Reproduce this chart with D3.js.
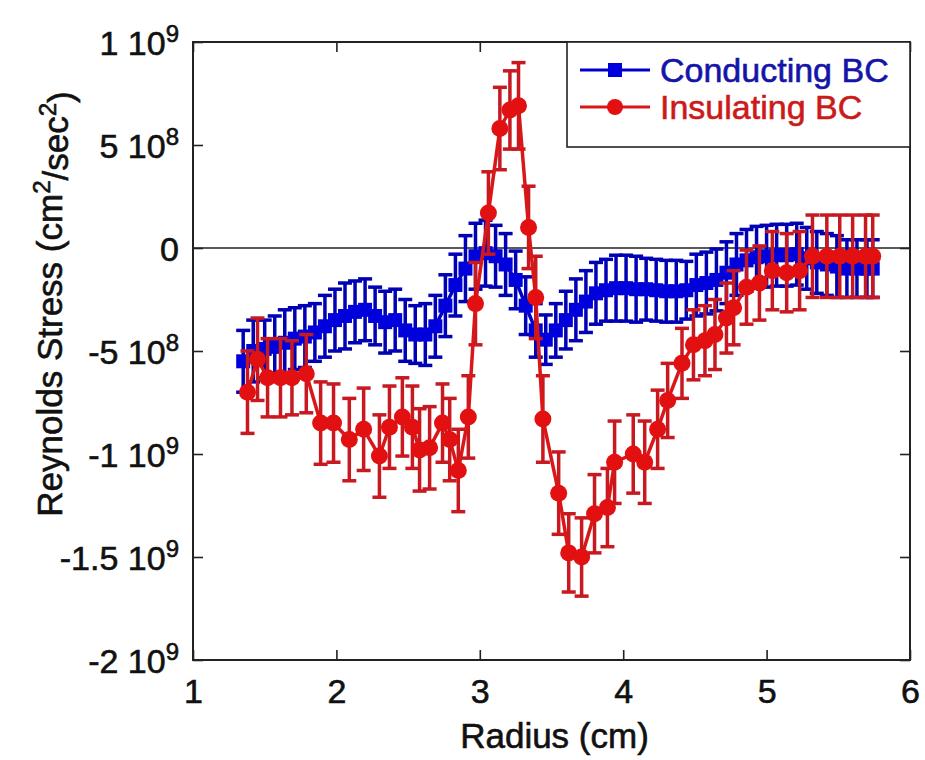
<!DOCTYPE html>
<html>
<head>
<meta charset="utf-8">
<script src="https://cdn.jsdelivr.net/npm/d3@7"></script>
<style>
  body { margin: 0; background: #fff; }
  svg text { font-family: "Liberation Sans", Arial, Helvetica, sans-serif; fill: #111; }
  svg text.heavy { stroke-width: 0.6px; paint-order: stroke; }
</style>
</head>
<body>
<div id="chart"></div>
<script>
// Conducting BC (blue squares)
var radiusBlue = [1.35, 1.42, 1.50, 1.57, 1.64, 1.71, 1.78, 1.85, 1.92, 1.99,
  2.06, 2.13, 2.20, 2.27, 2.34, 2.41, 2.48, 2.55, 2.62, 2.69,
  2.76, 2.83, 2.90, 2.97, 3.04, 3.11, 3.18, 3.25, 3.32, 3.39,
  3.46, 3.53, 3.60, 3.67, 3.74, 3.81, 3.88, 3.95, 4.02, 4.09,
  4.16, 4.23, 4.30, 4.37, 4.44, 4.51, 4.58, 4.65, 4.72, 4.79,
  4.86, 4.93, 5.00, 5.07, 5.14, 5.21, 5.28, 5.35, 5.42, 5.49,
  5.56, 5.63, 5.70, 5.74];
var stressBlue = [-5.5e8, -5.0e8, -4.9e8, -4.8e8, -4.6e8, -4.4e8, -4.3e8, -4.1e8, -3.8e8, -3.5e8,
  -3.3e8, -3.1e8, -3.0e8, -3.3e8, -3.6e8, -3.5e8, -4.0e8, -4.2e8, -4.2e8, -3.8e8,
  -2.8e8, -1.8e8, -1.0e8, -0.4e8, -0.25e8, -0.4e8, -0.8e8, -1.55e8, -2.8e8, -4.0e8,
  -4.45e8, -4.0e8, -3.5e8, -3.0e8, -2.6e8, -2.2e8, -2.05e8, -1.95e8, -1.95e8, -2.0e8,
  -2.0e8, -2.05e8, -2.1e8, -2.1e8, -2.05e8, -1.8e8, -1.7e8, -1.55e8, -1.2e8, -0.8e8,
  -0.6e8, -0.45e8, -0.4e8, -0.35e8, -0.35e8, -0.3e8, -0.5e8, -0.7e8, -0.8e8, -0.9e8,
  -1.0e8, -1.0e8, -1.0e8, -1.0e8];
var errBlue = [1.5e8, 1.5e8, 1.4e8, 1.5e8, 1.6e8, 1.5e8, 1.5e8, 1.4e8, 1.5e8, 1.5e8,
  1.6e8, 1.5e8, 1.5e8, 1.4e8, 1.5e8, 1.5e8, 1.5e8, 1.4e8, 1.5e8, 1.5e8,
  1.5e8, 1.5e8, 1.6e8, 1.6e8, 1.6e8, 1.5e8, 1.5e8, 1.4e8, 1.4e8, 1.3e8,
  1.2e8, 1.3e8, 1.4e8, 1.5e8, 1.5e8, 1.5e8, 1.5e8, 1.6e8, 1.6e8, 1.6e8,
  1.5e8, 1.5e8, 1.5e8, 1.5e8, 1.4e8, 1.5e8, 1.5e8, 1.5e8, 1.5e8, 1.5e8,
  1.5e8, 1.5e8, 1.5e8, 1.5e8, 1.5e8, 1.5e8, 1.5e8, 1.5e8, 1.5e8, 1.5e8,
  1.4e8, 1.4e8, 1.4e8, 1.4e8];

// Insulating BC (red circles)
var radiusRed = [1.38, 1.45, 1.52, 1.61, 1.69, 1.79, 1.89, 1.98, 2.09, 2.19,
  2.30, 2.37, 2.46, 2.53, 2.58, 2.65, 2.74, 2.79, 2.85, 2.92,
  2.97, 3.06, 3.14, 3.21, 3.27, 3.34, 3.39, 3.44, 3.55, 3.62,
  3.71, 3.80, 3.89, 3.94, 4.07, 4.15, 4.24, 4.31, 4.41, 4.49,
  4.57, 4.64, 4.72, 4.77, 4.86, 4.95, 5.04, 5.14, 5.23, 5.32,
  5.42, 5.51, 5.60, 5.69, 5.74];
var stressRed = [-7.0e8, -5.4e8, -6.3e8, -6.3e8, -6.3e8, -6.1e8, -8.5e8, -8.5e8, -9.3e8, -8.8e8,
  -10.1e8, -8.7e8, -8.2e8, -8.7e8, -9.8e8, -9.7e8, -8.5e8, -9.3e8, -10.8e8, -8.2e8,
  -2.7e8, 1.7e8, 5.8e8, 6.7e8, 6.9e8, 1.0e8, -2.4e8, -8.3e8, -11.9e8, -14.8e8,
  -15.0e8, -12.9e8, -12.6e8, -10.4e8, -10.0e8, -10.4e8, -8.8e8, -7.4e8, -5.6e8, -4.7e8,
  -4.5e8, -4.2e8, -3.4e8, -2.9e8, -1.9e8, -1.7e8, -1.1e8, -1.2e8, -1.1e8, -0.4e8,
  -0.4e8, -0.4e8, -0.4e8, -0.4e8, -0.4e8];
var errRed = [2.0e8, 2.0e8, 1.9e8, 1.9e8, 1.8e8, 1.9e8, 2.0e8, 1.9e8, 2.0e8, 2.0e8,
  2.0e8, 2.0e8, 1.9e8, 2.0e8, 2.0e8, 2.0e8, 1.9e8, 2.0e8, 2.0e8, 2.0e8,
  2.0e8, 2.0e8, 2.0e8, 1.9e8, 2.1e8, 2.0e8, 2.0e8, 2.1e8, 2.0e8, 1.9e8,
  1.9e8, 1.9e8, 1.9e8, 2.0e8, 1.9e8, 2.0e8, 1.9e8, 1.8e8, 1.7e8, 1.7e8,
  1.7e8, 1.7e8, 1.7e8, 1.8e8, 1.8e8, 1.8e8, 1.9e8, 1.9e8, 1.9e8, 2.0e8,
  2.0e8, 2.0e8, 2.0e8, 2.0e8, 2.0e8];

var xTicks = [1, 2, 3, 4, 5, 6];
var yTicks = [-2e9, -1.5e9, -1e9, -5e8, 0, 5e8, 1e9];
var yTickBase = ["-2 10", "-1.5 10", "-1 10", "-5 10", "0", "5 10", "1 10"];
var yTickExp = ["9", "9", "9", "8", "", "8", "9"];
var seriesNames = ["Conducting BC", "Insulating BC"];

var W = 925, H = 760;
var margin = {top: 42, right: 15, bottom: 100, left: 193};
var width = W - margin.left - margin.right,
    height = H - margin.top - margin.bottom;

var x = d3.scaleLinear().domain([1, 6]).range([0, width]);
var y = d3.scaleLinear().domain([-2e9, 1e9]).range([height, 0]);

var svg = d3.select('#chart').append('svg')
    .attr('width', W)
    .attr('height', H);

var g = svg.append('g')
    .attr('transform', 'translate(' + margin.left + ',' + margin.top + ')');

// zero line
g.append('line')
    .attr('x1', 0).attr('x2', width)
    .attr('y1', y(0)).attr('y2', y(0))
    .attr('stroke', '#222').attr('stroke-width', 1.6);

function makeSeries(radius, stress, err) {
  return radius.map(function(r, i) { return {r: r, v: stress[i], e: err[i]}; });
}
var blue = makeSeries(radiusBlue, stressBlue, errBlue);
var red = makeSeries(radiusRed, stressRed, errRed);

var line = d3.line()
    .x(function(d) { return x(d.r); })
    .y(function(d) { return y(d.v); });

function drawSeries(data, lineColor, barColor, marker, markColor) {
  var s = g.append('g');
  var bars = s.selectAll('.eb').data(data).enter().append('g');
  bars.append('line')
      .attr('x1', function(d) { return x(d.r); })
      .attr('x2', function(d) { return x(d.r); })
      .attr('y1', function(d) { return y(d.v - d.e); })
      .attr('y2', function(d) { return y(d.v + d.e); })
      .attr('stroke', barColor).attr('stroke-width', 3.5);
  [1, -1].forEach(function(sign) {
    bars.append('line')
        .attr('x1', function(d) { return x(d.r) - 7; })
        .attr('x2', function(d) { return x(d.r) + 7; })
        .attr('y1', function(d) { return y(d.v + sign * d.e); })
        .attr('y2', function(d) { return y(d.v + sign * d.e); })
        .attr('stroke', barColor).attr('stroke-width', 3.5);
  });
  s.append('path')
      .datum(data)
      .attr('d', line)
      .attr('fill', 'none')
      .attr('stroke', lineColor)
      .attr('stroke-width', 3.5);
  if (marker === 'square') {
    s.selectAll('.mk').data(data).enter().append('rect')
        .attr('x', function(d) { return x(d.r) - 7; })
        .attr('y', function(d) { return y(d.v) - 7; })
        .attr('width', 14).attr('height', 14)
        .attr('fill', markColor);
  } else {
    s.selectAll('.mk').data(data).enter().append('circle')
        .attr('cx', function(d) { return x(d.r); })
        .attr('cy', function(d) { return y(d.v); })
        .attr('r', 8.5)
        .attr('fill', markColor);
  }
}

drawSeries(blue, '#0000cc', '#0000b4', 'square', '#0000dd');
drawSeries(red, '#d81818', '#c81820', 'circle', '#e21010');

// axes, MATLAB style box with inward ticks
var fontTick = 34;
g.append('g')
    .attr('transform', 'translate(0,' + height + ')')
    .call(d3.axisBottom(x).tickValues(xTicks).tickSize(-10).tickPadding(12).tickFormat(d3.format('d')))
    .call(function(a) {
      a.select('.domain').remove();
      a.selectAll('line').attr('stroke', '#222').attr('stroke-width', 1.6);
      a.selectAll('text').attr('class', 'heavy').attr('font-size', fontTick).attr('dy', '0.9em')
          .style('fill', '#111').style('stroke', '#111');
    });
g.append('g')
    .call(d3.axisTop(x).tickValues(xTicks).tickSize(-10).tickFormat(''))
    .call(function(a) {
      a.select('.domain').remove();
      a.selectAll('line').attr('stroke', '#222').attr('stroke-width', 1.6);
    });
g.append('g')
    .attr('transform', 'translate(' + width + ',0)')
    .call(d3.axisRight(y).tickValues(yTicks).tickSize(-10).tickFormat(''))
    .call(function(a) {
      a.select('.domain').remove();
      a.selectAll('line').attr('stroke', '#222').attr('stroke-width', 1.6);
    });
var yAx = g.append('g')
    .call(d3.axisLeft(y).tickValues(yTicks).tickSize(-10).tickPadding(14).tickFormat(''));
yAx.select('.domain').remove();
yAx.selectAll('line').attr('stroke', '#222').attr('stroke-width', 1.6);
yAx.selectAll('.tick text').each(function(d, i) {
  var t = d3.select(this)
      .attr('class', 'heavy')
      .attr('font-size', fontTick)
      .attr('text-anchor', 'end')
      .attr('dy', '0.36em')
      .style('fill', '#111').style('stroke', '#111');
  t.append('tspan').text(yTickBase[i]);
  if (yTickExp[i]) {
    t.append('tspan').attr('dy', '-0.55em').attr('font-size', 24).text(yTickExp[i]);
  }
});

// frame
g.append('rect')
    .attr('width', width).attr('height', height)
    .attr('fill', 'none').attr('stroke', '#222').attr('stroke-width', 2);

// axis titles
svg.append('text')
    .attr('class', 'heavy')
    .attr('x', margin.left + width / 2 + 3)
    .attr('y', 748)
    .attr('text-anchor', 'middle')
    .attr('font-size', 35)
    .style('stroke', '#111')
    .text('Radius (cm)');

var yl = svg.append('text')
    .attr('class', 'heavy')
    .attr('transform', 'translate(62,304) rotate(-90)')
    .attr('text-anchor', 'middle')
    .attr('font-size', 35)
    .style('stroke', '#111');
yl.append('tspan').text('Reynolds Stress (cm');
yl.append('tspan').attr('dy', '-0.5em').attr('font-size', 24).text('2');
yl.append('tspan').attr('dy', '0.5em').text('/sec');
yl.append('tspan').attr('dy', '-0.5em').attr('font-size', 24).text('2');
yl.append('tspan').attr('dy', '0.5em').text(')');

// legend
var lg = g.append('g').attr('transform', 'translate(' + (567 - margin.left) + ',0)');
lg.append('rect')
    .attr('width', width - (567 - margin.left)).attr('height', 105)
    .attr('fill', '#fff').attr('stroke', '#222').attr('stroke-width', 1.6);
var legendItems = [
  {name: seriesNames[0], color: '#0000cc', text: '#1414a8', marker: 'square'},
  {name: seriesNames[1], color: '#d81818', text: '#cc1a1a', marker: 'circle'}
];
legendItems.forEach(function(it, i) {
  var row = lg.append('g').attr('transform', 'translate(0,' + (28 + i * 37) + ')');
  row.append('line').attr('x1', 13).attr('x2', 83).attr('y1', 0).attr('y2', 0)
      .attr('stroke', it.color).attr('stroke-width', 3);
  if (it.marker === 'square') {
    row.append('rect').attr('x', 41).attr('y', -7).attr('width', 14).attr('height', 14).attr('fill', '#0000dd');
  } else {
    row.append('circle').attr('cx', 48).attr('cy', 0).attr('r', 8).attr('fill', '#e21010');
  }
  row.append('text')
      .attr('class', 'heavy')
      .attr('x', 93).attr('y', 12)
      .attr('font-size', 34)
      .style('fill', it.text).style('stroke', it.text)
      .text(it.name);
});
</script>
</body>
</html>
